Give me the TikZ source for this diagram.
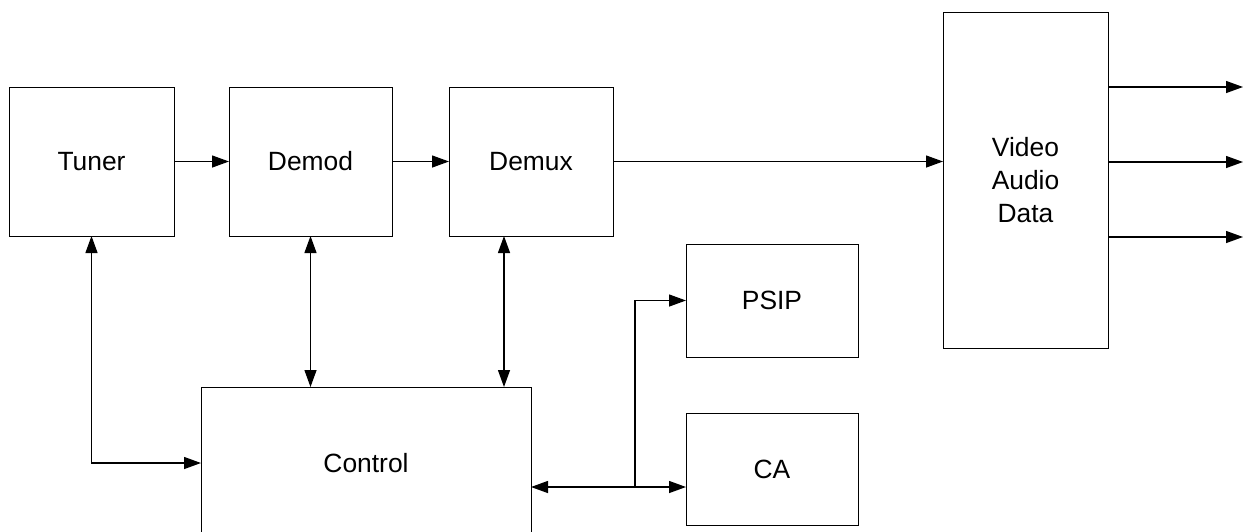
\documentclass[tikz,border=0pt]{standalone}
\usepackage{fontspec}
\setmainfont{Liberation Sans}
\usetikzlibrary{arrows.meta}
\begin{document}
\begin{tikzpicture}[x=1pt,y=-1pt,
  blk/.style={draw, line width=1pt, inner sep=0pt, outer sep=0pt, align=center,
    font=\fontsize{26.4}{33}\selectfont},
  conn/.style={line width=1.3pt, -{Triangle[length=17pt,width=12pt]}},
  biconn/.style={line width=1.3pt, {Triangle[length=17pt,width=12pt]}-{Triangle[length=17pt,width=12pt]}}]
\useasboundingbox (0,0) rectangle (1247,531);
% blocks
\node[blk, minimum width=165pt, minimum height=149pt] (tuner) at (91.5,161.5) {Tuner};
\node[blk, minimum width=163pt, minimum height=149pt] (demod) at (310.5,161.5) {Demod};
\node[blk, minimum width=164pt, minimum height=149pt] (demux) at (531,161.5) {Demux};
\node[blk, minimum width=165pt, minimum height=336pt] (video) at (1025.5,180) {Video\\Audio\\Data};
\node[blk, minimum width=172pt, minimum height=113pt] (psip) at (772,300.5) {PSIP};
\node[blk, minimum width=172pt, minimum height=112pt] (ca) at (772,469) {CA};
\node[blk, minimum width=330pt, minimum height=152pt] (control) at (366,463) {Control};
% signal path
\draw[conn] (tuner) -- (demod);
\draw[conn] (demod) -- (demux);
\draw[conn] (demux.east) -- (demux.east -| video.west);
\coordinate (o1) at (1243,87);
\coordinate (o2) at (1243,162);
\coordinate (o3) at (1243,237);
\draw[conn] (o1 -| video.east) -- (o1);
\draw[conn] (o2 -| video.east) -- (o2);
\draw[conn] (o3 -| video.east) -- (o3);
% control links
\draw[biconn] (tuner.south) |- (control.west);
\draw[biconn] (demod.south) -- (demod.south |- control.north);
\coordinate (dx) at (504,236);
\draw[biconn] (dx) -- (dx |- control.north);
\coordinate (j) at (635,487);
\draw[biconn] (j -| control.east) -- (j -| ca.west);
\draw[conn] (j) |- (psip.west);
\end{tikzpicture}
\end{document}
